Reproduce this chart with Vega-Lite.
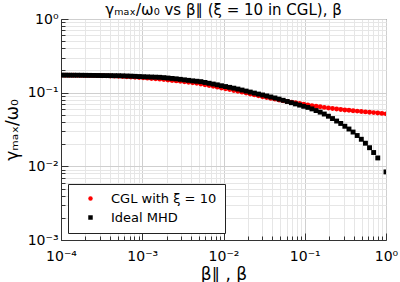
{
 "$schema": "https://vega.github.io/schema/vega-lite/v6.json",
 "width": 325, "height": 221,
 "autosize": "none",
 "padding": {"left": 61, "top": 19, "right": 14, "bottom": 42},
 "background": "white",
 "title": {"text": "γₘₐₓ/ω₀ vs β∥ (ξ = 10 in CGL), β", "fontSize": 15, "font": "DejaVu Sans", "fontWeight": "normal", "offset": -6, "anchor": "middle", "color": "black"},
 "data": {"values": [
  {"beta":0.0001,"g":0.1730,"model":"CGL with ξ = 10"},
  {"beta":0.0001124,"g":0.1727,"model":"CGL with ξ = 10"},
  {"beta":0.0001263,"g":0.1725,"model":"CGL with ξ = 10"},
  {"beta":0.0001419,"g":0.1722,"model":"CGL with ξ = 10"},
  {"beta":0.0001594,"g":0.1719,"model":"CGL with ξ = 10"},
  {"beta":0.0001791,"g":0.1716,"model":"CGL with ξ = 10"},
  {"beta":0.0002013,"g":0.1714,"model":"CGL with ξ = 10"},
  {"beta":0.0002262,"g":0.1711,"model":"CGL with ξ = 10"},
  {"beta":0.0002542,"g":0.1708,"model":"CGL with ξ = 10"},
  {"beta":0.0002856,"g":0.1703,"model":"CGL with ξ = 10"},
  {"beta":0.0003209,"g":0.1698,"model":"CGL with ξ = 10"},
  {"beta":0.0003606,"g":0.1692,"model":"CGL with ξ = 10"},
  {"beta":0.0004052,"g":0.1684,"model":"CGL with ξ = 10"},
  {"beta":0.0004553,"g":0.1677,"model":"CGL with ξ = 10"},
  {"beta":0.0005116,"g":0.1669,"model":"CGL with ξ = 10"},
  {"beta":0.0005749,"g":0.1658,"model":"CGL with ξ = 10"},
  {"beta":0.000646,"g":0.1646,"model":"CGL with ξ = 10"},
  {"beta":0.0007259,"g":0.1633,"model":"CGL with ξ = 10"},
  {"beta":0.0008157,"g":0.1620,"model":"CGL with ξ = 10"},
  {"beta":0.0009165,"g":0.1605,"model":"CGL with ξ = 10"},
  {"beta":0.00103,"g":0.1590,"model":"CGL with ξ = 10"},
  {"beta":0.001157,"g":0.1575,"model":"CGL with ξ = 10"},
  {"beta":0.0013,"g":0.1558,"model":"CGL with ξ = 10"},
  {"beta":0.001461,"g":0.1541,"model":"CGL with ξ = 10"},
  {"beta":0.001642,"g":0.1526,"model":"CGL with ξ = 10"},
  {"beta":0.001845,"g":0.1507,"model":"CGL with ξ = 10"},
  {"beta":0.002073,"g":0.1486,"model":"CGL with ξ = 10"},
  {"beta":0.002329,"g":0.1465,"model":"CGL with ξ = 10"},
  {"beta":0.002617,"g":0.1445,"model":"CGL with ξ = 10"},
  {"beta":0.002941,"g":0.1425,"model":"CGL with ξ = 10"},
  {"beta":0.003304,"g":0.1402,"model":"CGL with ξ = 10"},
  {"beta":0.003713,"g":0.1381,"model":"CGL with ξ = 10"},
  {"beta":0.004172,"g":0.1359,"model":"CGL with ξ = 10"},
  {"beta":0.004688,"g":0.1338,"model":"CGL with ξ = 10"},
  {"beta":0.005268,"g":0.1313,"model":"CGL with ξ = 10"},
  {"beta":0.005919,"g":0.1281,"model":"CGL with ξ = 10"},
  {"beta":0.006652,"g":0.1249,"model":"CGL with ξ = 10"},
  {"beta":0.007474,"g":0.1218,"model":"CGL with ξ = 10"},
  {"beta":0.008398,"g":0.1188,"model":"CGL with ξ = 10"},
  {"beta":0.009437,"g":0.1159,"model":"CGL with ξ = 10"},
  {"beta":0.0106,"g":0.1130,"model":"CGL with ξ = 10"},
  {"beta":0.01191,"g":0.1102,"model":"CGL with ξ = 10"},
  {"beta":0.01339,"g":0.1071,"model":"CGL with ξ = 10"},
  {"beta":0.01504,"g":0.1045,"model":"CGL with ξ = 10"},
  {"beta":0.0169,"g":0.1016,"model":"CGL with ξ = 10"},
  {"beta":0.01899,"g":0.0987,"model":"CGL with ξ = 10"},
  {"beta":0.02134,"g":0.0960,"model":"CGL with ξ = 10"},
  {"beta":0.02398,"g":0.0933,"model":"CGL with ξ = 10"},
  {"beta":0.02694,"g":0.0907,"model":"CGL with ξ = 10"},
  {"beta":0.03028,"g":0.0882,"model":"CGL with ξ = 10"},
  {"beta":0.03402,"g":0.0860,"model":"CGL with ξ = 10"},
  {"beta":0.03823,"g":0.0836,"model":"CGL with ξ = 10"},
  {"beta":0.04295,"g":0.0816,"model":"CGL with ξ = 10"},
  {"beta":0.04827,"g":0.0795,"model":"CGL with ξ = 10"},
  {"beta":0.05424,"g":0.0778,"model":"CGL with ξ = 10"},
  {"beta":0.06094,"g":0.0761,"model":"CGL with ξ = 10"},
  {"beta":0.06848,"g":0.0745,"model":"CGL with ξ = 10"},
  {"beta":0.07695,"g":0.0729,"model":"CGL with ξ = 10"},
  {"beta":0.08647,"g":0.0713,"model":"CGL with ξ = 10"},
  {"beta":0.09716,"g":0.0697,"model":"CGL with ξ = 10"},
  {"beta":0.1091,"g":0.0682,"model":"CGL with ξ = 10"},
  {"beta":0.1226,"g":0.0667,"model":"CGL with ξ = 10"},
  {"beta":0.1378,"g":0.0655,"model":"CGL with ξ = 10"},
  {"beta":0.1548,"g":0.0643,"model":"CGL with ξ = 10"},
  {"beta":0.1739,"g":0.0631,"model":"CGL with ξ = 10"},
  {"beta":0.1955,"g":0.0619,"model":"CGL with ξ = 10"},
  {"beta":0.2196,"g":0.0609,"model":"CGL with ξ = 10"},
  {"beta":0.2468,"g":0.0600,"model":"CGL with ξ = 10"},
  {"beta":0.2773,"g":0.0591,"model":"CGL with ξ = 10"},
  {"beta":0.3116,"g":0.0583,"model":"CGL with ξ = 10"},
  {"beta":0.3501,"g":0.0576,"model":"CGL with ξ = 10"},
  {"beta":0.3934,"g":0.0569,"model":"CGL with ξ = 10"},
  {"beta":0.4421,"g":0.0562,"model":"CGL with ξ = 10"},
  {"beta":0.4968,"g":0.0555,"model":"CGL with ξ = 10"},
  {"beta":0.5582,"g":0.0548,"model":"CGL with ξ = 10"},
  {"beta":0.6272,"g":0.0543,"model":"CGL with ξ = 10"},
  {"beta":0.7048,"g":0.0536,"model":"CGL with ξ = 10"},
  {"beta":0.792,"g":0.0529,"model":"CGL with ξ = 10"},
  {"beta":0.8899,"g":0.0523,"model":"CGL with ξ = 10"},
  {"beta":1,"g":0.0516,"model":"CGL with ξ = 10"},
  {"beta":0.0001,"g":0.1730,"model":"Ideal MHD"},
  {"beta":0.0001124,"g":0.1730,"model":"Ideal MHD"},
  {"beta":0.0001263,"g":0.1727,"model":"Ideal MHD"},
  {"beta":0.0001419,"g":0.1725,"model":"Ideal MHD"},
  {"beta":0.0001594,"g":0.1725,"model":"Ideal MHD"},
  {"beta":0.0001791,"g":0.1722,"model":"Ideal MHD"},
  {"beta":0.0002013,"g":0.1719,"model":"Ideal MHD"},
  {"beta":0.0002262,"g":0.1716,"model":"Ideal MHD"},
  {"beta":0.0002542,"g":0.1714,"model":"Ideal MHD"},
  {"beta":0.0002856,"g":0.1711,"model":"Ideal MHD"},
  {"beta":0.0003209,"g":0.1708,"model":"Ideal MHD"},
  {"beta":0.0003606,"g":0.1706,"model":"Ideal MHD"},
  {"beta":0.0004052,"g":0.1703,"model":"Ideal MHD"},
  {"beta":0.0004553,"g":0.1700,"model":"Ideal MHD"},
  {"beta":0.0005116,"g":0.1698,"model":"Ideal MHD"},
  {"beta":0.0005749,"g":0.1692,"model":"Ideal MHD"},
  {"beta":0.000646,"g":0.1684,"model":"Ideal MHD"},
  {"beta":0.0007259,"g":0.1677,"model":"Ideal MHD"},
  {"beta":0.0008157,"g":0.1666,"model":"Ideal MHD"},
  {"beta":0.0009165,"g":0.1656,"model":"Ideal MHD"},
  {"beta":0.00103,"g":0.1646,"model":"Ideal MHD"},
  {"beta":0.001157,"g":0.1638,"model":"Ideal MHD"},
  {"beta":0.0013,"g":0.1630,"model":"Ideal MHD"},
  {"beta":0.001461,"g":0.1623,"model":"Ideal MHD"},
  {"beta":0.001642,"g":0.1616,"model":"Ideal MHD"},
  {"beta":0.001845,"g":0.1600,"model":"Ideal MHD"},
  {"beta":0.002073,"g":0.1580,"model":"Ideal MHD"},
  {"beta":0.002329,"g":0.1560,"model":"Ideal MHD"},
  {"beta":0.002617,"g":0.1541,"model":"Ideal MHD"},
  {"beta":0.002941,"g":0.1517,"model":"Ideal MHD"},
  {"beta":0.003304,"g":0.1493,"model":"Ideal MHD"},
  {"beta":0.003713,"g":0.1470,"model":"Ideal MHD"},
  {"beta":0.004172,"g":0.1447,"model":"Ideal MHD"},
  {"beta":0.004688,"g":0.1429,"model":"Ideal MHD"},
  {"beta":0.005268,"g":0.1411,"model":"Ideal MHD"},
  {"beta":0.005919,"g":0.1376,"model":"Ideal MHD"},
  {"beta":0.006652,"g":0.1342,"model":"Ideal MHD"},
  {"beta":0.007474,"g":0.1309,"model":"Ideal MHD"},
  {"beta":0.008398,"g":0.1277,"model":"Ideal MHD"},
  {"beta":0.009437,"g":0.1241,"model":"Ideal MHD"},
  {"beta":0.0106,"g":0.1210,"model":"Ideal MHD"},
  {"beta":0.01191,"g":0.1181,"model":"Ideal MHD"},
  {"beta":0.01339,"g":0.1151,"model":"Ideal MHD"},
  {"beta":0.01504,"g":0.1119,"model":"Ideal MHD"},
  {"beta":0.0169,"g":0.1085,"model":"Ideal MHD"},
  {"beta":0.01899,"g":0.1051,"model":"Ideal MHD"},
  {"beta":0.02134,"g":0.1019,"model":"Ideal MHD"},
  {"beta":0.02398,"g":0.0987,"model":"Ideal MHD"},
  {"beta":0.02694,"g":0.0957,"model":"Ideal MHD"},
  {"beta":0.03028,"g":0.0930,"model":"Ideal MHD"},
  {"beta":0.03402,"g":0.0902,"model":"Ideal MHD"},
  {"beta":0.03823,"g":0.0874,"model":"Ideal MHD"},
  {"beta":0.04295,"g":0.0847,"model":"Ideal MHD"},
  {"beta":0.04827,"g":0.0818,"model":"Ideal MHD"},
  {"beta":0.05424,"g":0.0788,"model":"Ideal MHD"},
  {"beta":0.06094,"g":0.0759,"model":"Ideal MHD"},
  {"beta":0.06848,"g":0.0731,"model":"Ideal MHD"},
  {"beta":0.07695,"g":0.0704,"model":"Ideal MHD"},
  {"beta":0.08647,"g":0.0678,"model":"Ideal MHD"},
  {"beta":0.09716,"g":0.0653,"model":"Ideal MHD"},
  {"beta":0.1091,"g":0.0631,"model":"Ideal MHD"},
  {"beta":0.1226,"g":0.0602,"model":"Ideal MHD"},
  {"beta":0.1378,"g":0.0572,"model":"Ideal MHD"},
  {"beta":0.1548,"g":0.0544,"model":"Ideal MHD"},
  {"beta":0.1739,"g":0.0513,"model":"Ideal MHD"},
  {"beta":0.1955,"g":0.0479,"model":"Ideal MHD"},
  {"beta":0.2196,"g":0.0445,"model":"Ideal MHD"},
  {"beta":0.2468,"g":0.0412,"model":"Ideal MHD"},
  {"beta":0.2773,"g":0.0382,"model":"Ideal MHD"},
  {"beta":0.3116,"g":0.0350,"model":"Ideal MHD"},
  {"beta":0.3501,"g":0.0321,"model":"Ideal MHD"},
  {"beta":0.3934,"g":0.0292,"model":"Ideal MHD"},
  {"beta":0.4421,"g":0.0262,"model":"Ideal MHD"},
  {"beta":0.4968,"g":0.0233,"model":"Ideal MHD"},
  {"beta":0.5582,"g":0.0206,"model":"Ideal MHD"},
  {"beta":0.6272,"g":0.0179,"model":"Ideal MHD"},
  {"beta":0.7048,"g":0.0154,"model":"Ideal MHD"},
  {"beta":0.792,"g":0.0130,"model":"Ideal MHD"},
  {"beta":1,"g":0.0084,"model":"Ideal MHD"}
 ]},
 "mark": {"type": "point", "filled": true, "opacity": 1, "size": 24, "clip": true},
 "encoding": {
  "x": {"field": "beta", "type": "quantitative",
   "scale": {"type": "log", "domain": [0.0001, 1], "nice": false},
   "axis": {
    "title": "β∥ , β", "titleFontSize": 17, "titlePadding": 3,
    "values": [0.0001,0.0002,0.0003,0.0004,0.0005,0.0006,0.0007,0.0008,0.0009,0.001,0.002,0.003,0.004,0.005,0.006,0.007,0.008,0.009,0.01,0.02,0.03,0.04,0.05,0.06,0.07,0.08,0.09,0.1,0.2,0.3,0.4,0.5,0.6,0.7,0.8,0.9,1],
    "labelExpr": "datum.value === 0.0001 ? '10⁻⁴' : datum.value === 0.001 ? '10⁻³' : datum.value === 0.01 ? '10⁻²' : datum.value === 0.1 ? '10⁻¹' : datum.value === 1 ? '10⁰' : ''",
    "tickSize": {"condition": {"test": "indexof([0.0001,0.001,0.01,0.1,1], datum.value) >= 0", "value": -7}, "value": -4},
    "gridColor": {"condition": {"test": "indexof([0.0001,0.001,0.01,0.1,1], datum.value) >= 0", "value": "#cfcfcf"}, "value": "#e6e6e6"},
    "labelPadding": 16,
    "labelFlush": false
   }},
  "y": {"field": "g", "type": "quantitative",
   "scale": {"type": "log", "domain": [0.001, 1], "nice": false},
   "axis": {
    "title": "γₘₐₓ/ω₀", "titleFontSize": 17, "titlePadding": 6,
    "values": [0.001,0.002,0.003,0.004,0.005,0.006,0.007,0.008,0.009,0.01,0.02,0.03,0.04,0.05,0.06,0.07,0.08,0.09,0.1,0.2,0.3,0.4,0.5,0.6,0.7,0.8,0.9,1],
    "labelExpr": "datum.value === 0.001 ? '10⁻³' : datum.value === 0.01 ? '10⁻²' : datum.value === 0.1 ? '10⁻¹' : datum.value === 1 ? '10⁰' : ''",
    "tickSize": {"condition": {"test": "indexof([0.001,0.01,0.1,1], datum.value) >= 0", "value": -7}, "value": -4},
    "gridColor": {"condition": {"test": "indexof([0.001,0.01,0.1,1], datum.value) >= 0", "value": "#cfcfcf"}, "value": "#e6e6e6"},
    "labelPadding": 10,
    "labelFlush": false
   }},
  "color": {"field": "model", "type": "nominal",
   "scale": {"domain": ["CGL with ξ = 10", "Ideal MHD"], "range": ["#ff0000", "#000000"]},
   "legend": {"title": null, "orient": "none", "legendX": 7, "legendY": 165}},
  "shape": {"field": "model", "type": "nominal",
   "scale": {"domain": ["CGL with ξ = 10", "Ideal MHD"], "range": ["circle", "square"]},
   "legend": {"title": null, "orient": "none", "legendX": 7, "legendY": 165}}
 },
 "config": {
  "font": "DejaVu Sans",
  "view": {"stroke": "#333333", "strokeWidth": 1},
  "axis": {"domainColor": "#333333", "tickColor": "#333333", "labelFont": "DejaVu Sans", "labelFontSize": 14, "labelColor": "black", "titleFont": "DejaVu Sans", "titleFontWeight": "normal", "titleColor": "black", "grid": true, "gridWidth": 1},
  "legend": {"strokeColor": "#222222", "fillColor": "white", "padding": 8, "cornerRadius": 0, "symbolOffset": 8, "labelOffset": 14, "rowPadding": 5, "labelFont": "DejaVu Sans", "labelFontSize": 13, "labelColor": "black", "symbolSize": 20, "symbolStrokeWidth": 0}
 }
}
